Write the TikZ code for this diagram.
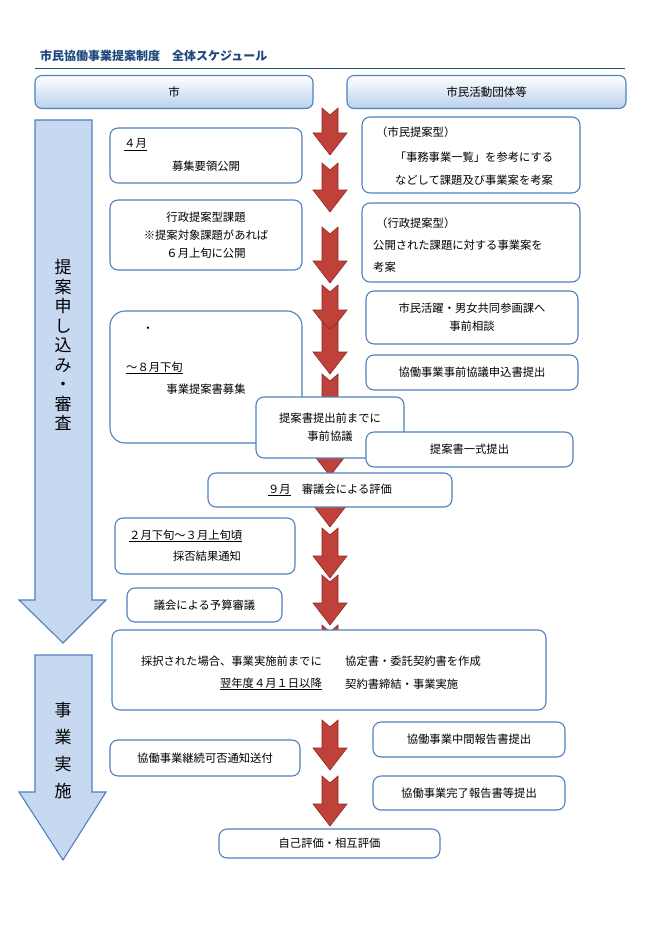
\documentclass[tikz,border=0pt]{standalone}
\usepackage{fontspec}
\setmainfont{Noto Sans CJK JP}
\definecolor{boxblue}{RGB}{79,129,189}
\definecolor{darkblue}{RGB}{31,73,125}
\definecolor{lightblue}{RGB}{198,217,241}
\definecolor{arrowred}{RGB}{192,64,58}
\definecolor{arrowedge}{RGB}{140,40,36}
\tikzset{
  box/.style={draw=boxblue,line width=1.1pt,rounded corners=8pt,fill=white,inner sep=2pt,align=center,font=\fontsize{11.3}{18}\selectfont},
  head/.style={draw=boxblue,line width=1.1pt,rounded corners=7pt,top color=white,bottom color=lightblue!90!boxblue,font=\fontsize{11.5}{13}\selectfont},
  txt/.style={inner sep=0pt,font=\fontsize{11.3}{13}\selectfont},
  bigarrow/.style={draw=boxblue,line width=1.1pt,fill=lightblue},
  redarrow/.style={draw=arrowedge,line width=0.6pt,fill=arrowred}
}
\newcommand{\redarr}[2]{%
  \draw[redarrow] (322,#1) -- (330,#1+7) -- (338,#1) -- (338,#2-22) -- (347,#2-22)
    -- (330,#2) -- (313,#2-22) -- (322,#2-22) -- cycle;}
\begin{document}
\begin{tikzpicture}[x=1pt,y=-1pt]
\useasboundingbox (0,0) rectangle (662,936);

% title
\node[txt,anchor=west,text=darkblue,font=\fontsize{12}{13}\selectfont\bfseries] (title) at (40,56) {市民協働事業提案制度\hspace{1em}全体スケジュール};
\draw[darkblue,line width=1pt] (35,69) -- (625,69);

% headers
\node[head,minimum width=278,minimum height=33] (city) at (174,92) {市};
\node[head,minimum width=279,minimum height=33] (group) at (486.5,92) {市民活動団体等};

% big left arrows
\draw[bigarrow] (35,120) -- (92,120) -- (92,600) -- (106,600) -- (63,643) -- (19,600) -- (35,600) -- cycle;
\draw[bigarrow] (35,655) -- (92,655) -- (92,792) -- (106,792) -- (63,860) -- (19,792) -- (35,792) -- cycle;
\node[inner sep=0pt,align=center,font=\fontsize{17}{19.5}\selectfont] (apply) at (63,345) {提\\案\\申\\し\\込\\み\\・\\審\\査};
\node[inner sep=0pt,align=center,font=\fontsize{17}{27}\selectfont] (run) at (63,751) {事\\業\\実\\施};

% red arrows, sorted top to bottom
\foreach \t/\b in {108/155,163/212,227/283,285/332,322/374,374/420,420/476,483/527,528/578,575/625,625/662,720/770,776/826}
  {\redarr{\t}{\b}}

% city side
\node[box,minimum width=192,minimum height=55] (apr) at (206,155.5) {};
\node[txt,anchor=west] (aprl) at (124,145) {\underline{４月}};
\node[txt] (aprt) at (206,166) {募集要領公開};
\node[box,minimum width=192,minimum height=70] (topic) at (206,235) {行政提案型課題\\※提案対象課題があれば\\６月上旬に公開};
\node[box,rounded corners=15pt,minimum width=192,minimum height=132] (aug) at (206,377) {};
\node[txt] (dot) at (148,330) {・};
\node[txt,anchor=west] (augl) at (126,368) {\underline{～８月下旬}};
\node[txt] (augt) at (206,389) {事業提案書募集};
\node[box,minimum width=148,minimum height=61] (pre) at (330,427.5) {提案書提出前までに\\事前協議};
\node[box,minimum width=244,minimum height=34] (sep) at (330,490) {\underline{９月}\hspace{1em}審議会による評価};
\node[box,minimum width=180,minimum height=56] (feb) at (205,546) {};
\node[txt,anchor=west] (febl) at (129,536) {\underline{２月下旬～３月上旬頃}};
\node[txt] (febt) at (207,556) {採否結果通知};
\node[box,minimum width=155,minimum height=34] (council) at (204.5,605) {議会による予算審議};
\node[box,minimum width=434,minimum height=80] (adopt) at (329,670) {};
\node[txt,anchor=east] (adopt1) at (322,661) {採択された場合、事業実施前までに};
\node[txt,anchor=east] (adopt2) at (322,684) {\underline{翌年度４月１日以降}};
\node[txt,anchor=west] (adopt3) at (345,661) {協定書・委託契約書を作成};
\node[txt,anchor=west] (adopt4) at (345,684) {契約書締結・事業実施};
\node[box,minimum width=190,minimum height=36] (cont) at (205,758) {協働事業継続可否通知送付};
\node[box,minimum width=221,minimum height=29] (eval) at (329.5,843.5) {自己評価・相互評価};

% group side
\node[box,minimum width=218,minimum height=76] (citizen) at (471,155) {};
\node[txt,anchor=west] (citizen1) at (376,132) {（市民提案型）};
\node[txt] (citizen2) at (474,157) {「事務事業一覧」を参考にする};
\node[txt] (citizen3) at (474,180) {などして課題及び事業案を考案};
\node[box,minimum width=218,minimum height=79] (admin) at (471,242.5) {};
\node[txt,anchor=west] (admin1) at (376,223) {（行政提案型）};
\node[txt,anchor=west] (admin2) at (373,245) {公開された課題に対する事業案を};
\node[txt,anchor=west] (admin3) at (373,267) {考案};
\node[box,minimum width=212,minimum height=53] (consult) at (472,317.5) {市民活躍・男女共同参画課へ\\事前相談};
\node[box,minimum width=212,minimum height=35] (request) at (472,372.5) {協働事業事前協議申込書提出};
\node[box,minimum width=207,minimum height=35] (submit) at (469.5,449.5) {提案書一式提出};
\node[box,minimum width=192,minimum height=35] (mid) at (469,739.5) {協働事業中間報告書提出};
\node[box,minimum width=192,minimum height=34] (done) at (469,793) {協働事業完了報告書等提出};
\end{tikzpicture}
\end{document}
